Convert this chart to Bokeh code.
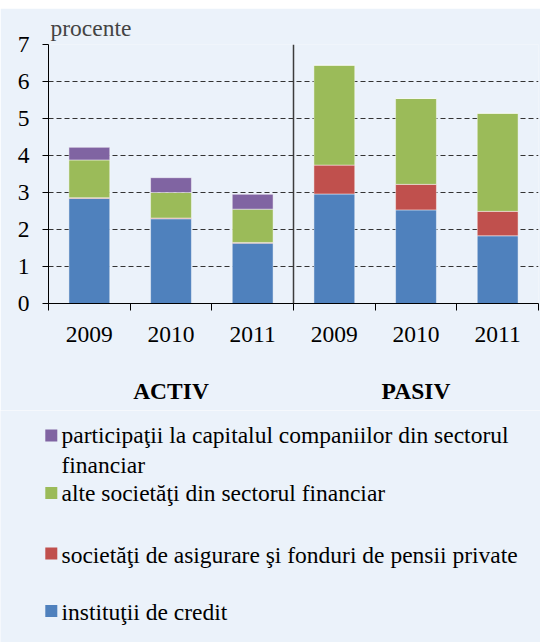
from bokeh.plotting import figure
from bokeh.models import Range1d, FixedTicker, LinearAxis, Span, ColumnDataSource
from bokeh.layouts import column
from bokeh.embed import file_html
from bokeh.resources import INLINE
from bokeh.core.properties import value

# ---------------- data ----------------
groups = ["ACTIV", "PASIV"]
years = ["2009", "2010", "2011"]
institutii_credit = [2.84, 2.29, 1.63, 2.96, 2.53, 1.83]
asigurari_pensii = [0.02, 0.02, 0.02, 0.78, 0.69, 0.66]
alte_societati = [1.02, 0.69, 0.90, 2.70, 2.32, 2.65]
participatii = [0.34, 0.40, 0.40, 0.0, 0.0, 0.0]
y_ticks = [0, 1, 2, 3, 4, 5, 6, 7]
y_label = "procente"
legend_labels = [
    "participaţii la capitalul companiilor din sectorul\nfinanciar",
    "alte societăţi din sectorul financiar",
    "societăţi de asigurare şi fonduri de pensii private",
    "instituţii de credit",
]

# ---------------- styles ----------------
FONT = "'Liberation Serif', 'Times New Roman', serif"
BG = "#EBF2FA"
STRIPE = "#0B4A8E"
C_CREDIT = "#4F81BD"
C_ASIG = "#C0504D"
C_ALTE = "#9BBB59"
C_PART = "#8064A2"
FS = "23.5px"

n_years = len(years)
n = len(groups) * n_years
xs = [i + 0.5 for i in range(n)]
bounds = list(range(n + 1))
group_centers = [g * n_years + n_years / 2 for g in range(len(groups))]

src = ColumnDataSource(dict(
    x=xs,
    credit=institutii_credit,
    asig=asigurari_pensii,
    alte=alte_societati,
    part=participatii,
))

W = 540
H_STRIPE = 2
H_GAP = 6
H_TOP = 402
H_LEG = 232


def blank(h, color):
    f = figure(width=W, height=h, toolbar_location=None, output_backend="svg",
               x_axis_location=None, y_axis_location=None,
               min_border=0, min_border_left=0, min_border_right=0,
               min_border_top=0, min_border_bottom=0,
               background_fill_color=color, border_fill_color=color,
               outline_line_color=None)
    f.frame_align = False
    f.grid.visible = False
    return f


stripe = blank(H_STRIPE, STRIPE)
gap = blank(H_GAP, "white")

p = figure(width=W, height=H_TOP,
           x_range=Range1d(0, n), y_range=Range1d(y_ticks[0], y_ticks[-1]),
           toolbar_location=None, output_backend="svg",
           min_border_left=48, min_border_right=2, min_border_top=36,
           min_border_bottom=107,
           background_fill_color=BG, border_fill_color=BG,
           outline_line_color=None, title=y_label)
p.frame_align = False

p.title.text_font = FONT
p.title.text_font_size = FS
p.title.text_font_style = "normal"
p.title.align = "left"
p.title.offset = 2
p.title.standoff = 8

p.vbar_stack(["credit", "asig", "alte", "part"], x="x", width=0.5,
             color=[C_CREDIT, C_ASIG, C_ALTE, C_PART], source=src,
             line_color="white", line_alpha=0.45, line_width=1)

# y axis
p.yaxis.ticker = FixedTicker(ticks=y_ticks)
p.yaxis.major_label_text_font = FONT
p.yaxis.major_label_text_font_size = FS
p.yaxis.major_label_text_color = "black"
p.yaxis.major_label_standoff = 13
p.yaxis.major_tick_out = 6
p.yaxis.major_tick_in = 0
p.yaxis.minor_tick_line_color = None
p.yaxis.axis_line_color = "black"
p.yaxis.major_tick_line_color = "black"

p.ygrid.grid_line_color = "#333333"
p.ygrid.grid_line_dash = "5 3"
p.ygrid.grid_line_width = 1
p.xgrid.visible = False

# x axis: years at centres, ticks at boundaries
xa = p.xaxis[0]
xa.ticker = FixedTicker(ticks=xs, minor_ticks=bounds)
xa.major_label_overrides = {x: years[i % n_years] for i, x in enumerate(xs)}
xa.major_tick_out = 0
xa.major_tick_in = 0
xa.minor_tick_out = 7
xa.minor_tick_in = 0
xa.minor_tick_line_color = "black"
xa.axis_line_color = "black"
xa.major_label_text_font = FONT
xa.major_label_text_font_size = FS
xa.major_label_text_color = "black"
xa.major_label_standoff = 16

# group labels
ga = LinearAxis(ticker=FixedTicker(ticks=group_centers),
                major_label_overrides={c: g for c, g in zip(group_centers, groups)},
                axis_line_color=None, major_tick_line_color=None,
                minor_tick_line_color=None,
                major_label_text_font=FONT, major_label_text_font_size=FS,
                major_label_text_font_style="bold",
                major_label_text_color="black",
                major_label_standoff=27)
p.add_layout(ga, "below")

p.add_layout(Span(location=n_years, dimension="height",
                  line_color="#3c3c3c", line_width=1.5))

# ---------------- legend panel ----------------
leg = figure(width=W, height=H_LEG, x_range=Range1d(0, W), y_range=Range1d(H_LEG, 0),
             toolbar_location=None, output_backend="svg",
             x_axis_location=None, y_axis_location=None,
             min_border=0, min_border_left=0, min_border_right=0,
             min_border_top=0, min_border_bottom=0,
             background_fill_color=BG, border_fill_color=BG,
             outline_line_color=None)
leg.frame_align = False
leg.grid.visible = False

leg_colors = [C_PART, C_ALTE, C_ASIG, C_CREDIT]
sq_y = [25, 82.6, 143, 200.6]
txt_y = [39.7, 82.6, 144.6, 201.4]
leg.rect(x=50.8, y=sq_y, width=12, height=12, fill_color=leg_colors, line_color=None)
leg.text(x=61, y=txt_y, text=legend_labels, text_font=value(FONT),
         text_font_size=FS, text_baseline="middle", text_align="left",
         text_color="black", text_line_height=1.17)

layout = column(stripe, gap, p, leg, spacing=0)
open("out.html", "w").write(file_html(layout, INLINE))
